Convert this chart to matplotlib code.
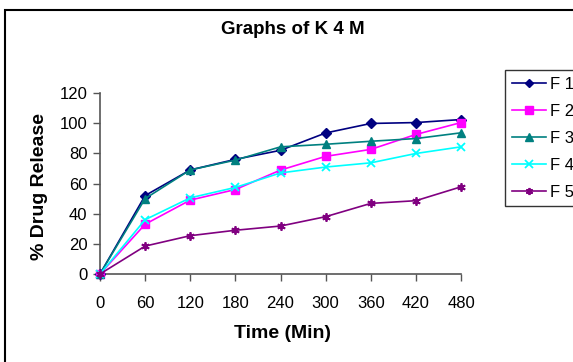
import matplotlib
matplotlib.use("Agg")
import matplotlib.pyplot as plt
from matplotlib.patches import Rectangle

plt.rcParams['font.family'] = ['Liberation Sans', 'DejaVu Sans']

time = [0, 60, 120, 180, 240, 300, 360, 420, 480]
f1 = [0, 52, 69, 76, 82, 93.5, 99.8, 100.4, 102.4]
f2 = [0, 33, 49, 56, 68.9, 78, 82.6, 92.5, 100.4]
f3 = [0, 50, 69, 75.5, 84.3, 86, 88, 89.8, 93.6]
f4 = [0, 36, 50.5, 57.4, 67, 70.9, 73.7, 79.9, 84.3]
f5 = [0, 18.5, 25.4, 29, 31.8, 38, 46.8, 48.6, 57.8]
labels = ["F 1", "F 2", "F 3", "F 4", "F 5"]

series = [f1, f2, f3, f4, f5]
colors = ["#000080", "#FF00FF", "#008080", "#00FFFF", "#800080"]
markers = ["D", "s", "^", "x", (6, 2, 0)]
msizes = [5, 6, 6, 6, 6]

fig = plt.figure(figsize=(5.73, 3.62), dpi=100)
ax = fig.add_axes([100/573, 1-274/362, 361/573, 181/362])

for s, c, m, ms, lab in zip(series, colors, markers, msizes, labels):
    ax.plot(time, s, color=c, marker=m, markersize=ms, linewidth=1.2,
            label=lab, clip_on=False, zorder=3,
            markeredgewidth=1.3 if m in ("x", (6, 2, 0)) else 1)

ax.set_xlim(0, 480)
ax.set_ylim(0, 120)
ax.set_xticks(time)
ax.set_yticks(range(0, 121, 20))
for sp in ["top", "right"]:
    ax.spines[sp].set_visible(False)
for sp in ["left", "bottom"]:
    ax.spines[sp].set_color("#555555")
    ax.spines[sp].set_linewidth(1.2)
ax.tick_params(colors="#555555", labelcolor="black", labelsize=12, length=5, width=1)
ax.tick_params(axis="x", pad=11)
ax.tick_params(axis="y", pad=4)

fig.text(293/573, 1-29/362, "Graphs of K 4 M", ha="center", va="center",
         fontsize=13.5, fontweight="bold")
fig.text(282/573, 1-333/362, "Time (Min)", ha="center", va="center",
         fontsize=14, fontweight="bold")
fig.text(40/573, 1-187/362, "% Drug Release", ha="center", va="center",
         fontsize=14, fontweight="bold", rotation=90)

fig.patches.append(Rectangle((5/573, -0.05), 1.0, 1-10/362+0.05,
                             transform=fig.transFigure, fill=False,
                             edgecolor="black", linewidth=1.5))

leg = ax.legend(loc="upper left", bbox_to_anchor=(505/573, 1-70/362),
                bbox_transform=fig.transFigure, frameon=True, fancybox=False,
                fontsize=12, labelspacing=0.72, handlelength=2.05,
                handletextpad=0.25, borderpad=0.4, borderaxespad=0,
                markerscale=0.85)
leg.get_frame().set_edgecolor("black")
leg.get_frame().set_linewidth(1)

fig.savefig("out.png", dpi=100)
